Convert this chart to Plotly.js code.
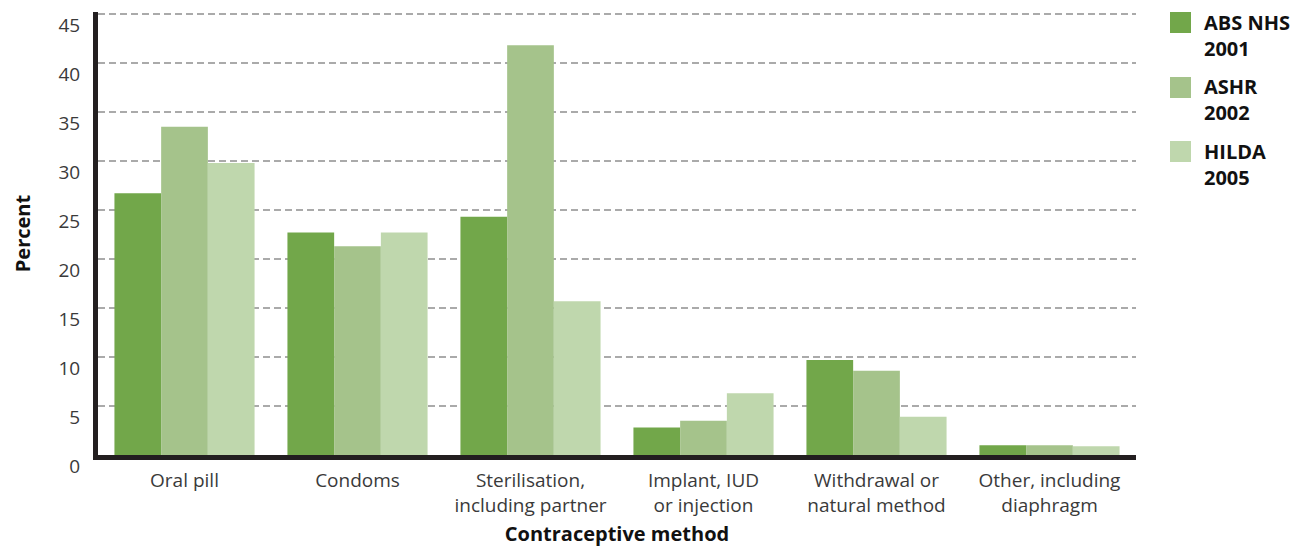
<!DOCTYPE html>
<html>
<head>
<meta charset="utf-8">
<script src="https://cdn.plot.ly/plotly-3.0.1.min.js"></script>
<style>
  html, body { margin: 0; padding: 0; background: #ffffff; }
  #chart { width: 1298px; height: 547px; }
</style>
</head>
<body>
<div id="chart"></div>
<script>
// ---- Data ----
const categories = [
  "Oral pill",
  "Condoms",
  "Sterilisation,<br>including partner",
  "Implant, IUD<br>or injection",
  "Withdrawal or<br>natural method",
  "Other, including<br>diaphragm"
];
const seriesNames = ["ABS NHS<br>2001", "ASHR<br>2002", "HILDA<br>2005"];
const absNhs2001 = [26.7, 22.7, 24.3, 2.8, 9.7, 1.0];
const ashr2002   = [33.5, 21.3, 41.8, 3.5, 8.6, 1.0];
const hilda2005  = [29.8, 22.7, 15.7, 6.3, 3.9, 0.9];
const yTicks = [0, 5, 10, 15, 20, 25, 30, 35, 40, 45];

// ---- Styles ----
const colors = ["#72a74a", "#a5c38b", "#bfd7ad"];
const FONT = "Open Sans, sans-serif";
const W = 1298, H = 547;
const M = { l: 98, r: 162, t: 12, b: 92 };
const PW = W - M.l - M.r, PH = H - M.t - M.b;
const fx = p => (p - M.l) / PW;          // pixel -> paper x
const fy = p => 1 - (p - M.t) / PH;      // pixel -> paper y

const seriesValues = [absNhs2001, ashr2002, hilda2005];
const traces = seriesValues.map((vals, i) => ({
  type: "bar",
  x: categories,
  y: vals,
  name: seriesNames[i],
  marker: { color: colors[i], line: { width: 0 } },
  showlegend: false,
  hoverinfo: "x+y+name"
}));

// custom legend (larger swatches like the reference)
const shapes = [];
const annotations = [];
const swTop = [12, 77, 141];
seriesNames.forEach((n, i) => {
  shapes.push({
    type: "rect", xref: "paper", yref: "paper",
    x0: fx(1170), x1: fx(1191), y0: fy(swTop[i]), y1: fy(swTop[i] + 21),
    fillcolor: colors[i], line: { width: 0 }
  });
  annotations.push({
    xref: "paper", yref: "paper",
    x: fx(1202), y: fy(swTop[i] + 23), xanchor: "left", yanchor: "middle",
    text: n, showarrow: false, align: "left",
    font: { family: FONT, size: 20, color: "#111111", weight: 700 }
  });
});

const layout = {
  width: W, height: H,
  margin: M,
  paper_bgcolor: "#ffffff",
  plot_bgcolor: "#ffffff",
  font: { family: FONT, color: "#3a3a3a" },
  barmode: "group",
  bargap: 0.19,
  bargroupgap: 0,
  showlegend: false,
  xaxis: {
    type: "category",
    showline: true, linecolor: "#231f20", linewidth: 5,
    showgrid: false, ticks: "", zeroline: false,
    ticklabelstandoff: 4,
    tickfont: { size: 19, color: "#3a3a3a", family: FONT },
    automargin: false,
    title: {
      text: "Contraceptive method",
      font: { size: 20, color: "#111111", family: FONT, weight: 700 },
      standoff: 23
    }
  },
  yaxis: {
    range: [0, 45.2],
    tickvals: yTicks,
    ticktext: yTicks.map(String),
    showline: true, linecolor: "#231f20", linewidth: 5,
    showgrid: true, gridcolor: "#aaaaaa", gridwidth: 1.6, griddash: "6.5px,4.5px",
    zeroline: false, ticks: "",
    ticklabelshift: 11,
    ticklabelstandoff: 9,
    tickfont: { size: 19, color: "#3a3a3a", family: FONT },
    automargin: false,
    title: {
      text: "Percent",
      font: { size: 20, color: "#111111", family: FONT, weight: 700 },
      standoff: 24
    }
  },
  shapes: shapes,
  annotations: annotations
};

Plotly.newPlot("chart", traces, layout, { displayModeBar: false, staticPlot: true });
</script>
</body>
</html>
